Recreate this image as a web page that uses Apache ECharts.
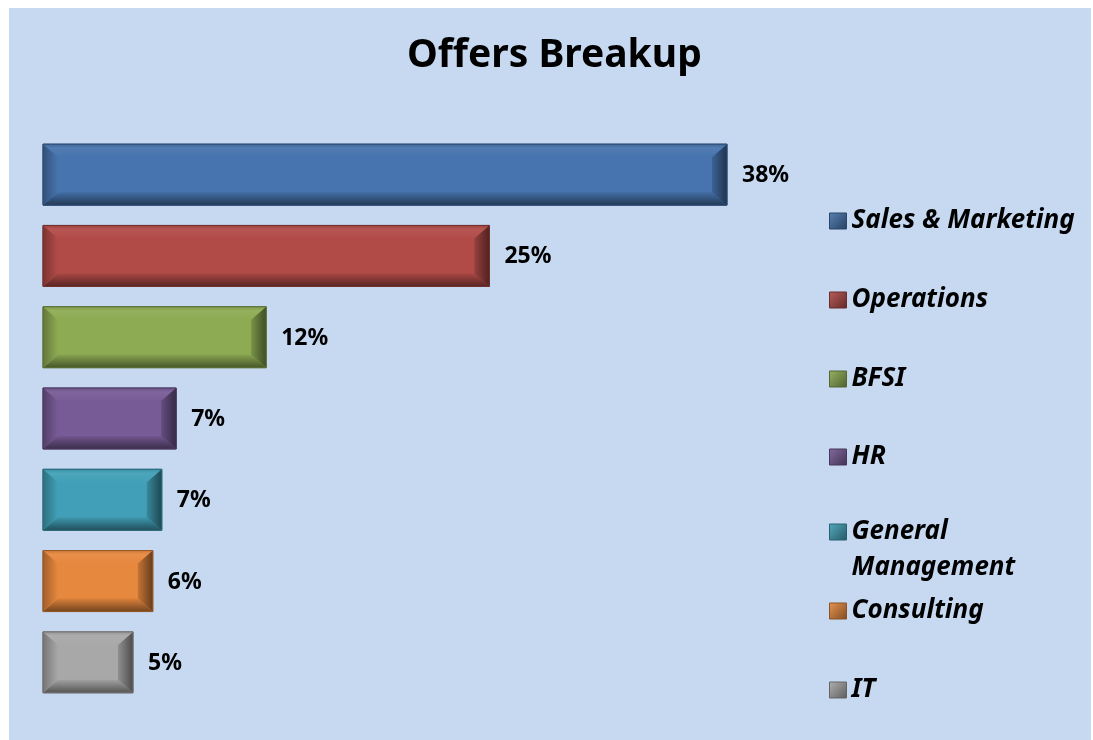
<!DOCTYPE html>
<html>
<head>
<meta charset="utf-8">
<script src="https://cdn.jsdelivr.net/npm/echarts@6/dist/echarts.min.js"></script>
<style>
  html, body { margin: 0; padding: 0; background: #ffffff; }
  #chart { position: absolute; left: 9px; top: 8px; width: 1082px; height: 732px; }
</style>
</head>
<body>
<div id="chart"></div>
<script>
// data
const categories = ['Sales & Marketing', 'Operations', 'BFSI', 'HR', 'General Management', 'Consulting', 'IT'];
const values = [38, 24.8, 12.4, 7.4, 6.6, 6.1, 5.0];
const colors = ['#4774ae', '#b14b48', '#8dab53', '#775b96', '#41a0b7', '#e6883e', '#a8a8a8'];

// legend icon centres (chart coords)
const legendCentres = [211, 290, 369, 447, 524, 601, 680];

function shade(hex, f) {
    const n = parseInt(hex.slice(1), 16);
    let r = (n >> 16) & 255, g = (n >> 8) & 255, b = n & 255;
    if (f < 0) {
        r = r * (1 + f); g = g * (1 + f); b = b * (1 + f);
    } else {
        r = r + (255 - r) * f; g = g + (255 - g) * f; b = b + (255 - b) * f;
    }
    return 'rgb(' + Math.round(r) + ',' + Math.round(g) + ',' + Math.round(b) + ')';
}

const LG = echarts.graphic.LinearGradient;

function renderBar(params, api) {
    const v = api.value(0);
    const c = api.value(1);
    const p0 = api.coord([0, c]);
    const p1 = api.coord([v, c]);
    const h = api.size([0, 1])[1] * 0.75;
    const x = p0[0], y = p0[1] - h / 2, w = p1[0] - p0[0];
    const bx = Math.min(15, w / 2), by = 13;
    const col = colors[c];
    const dark = shade(col, -0.55);
    return {
        type: 'group',
        children: [
            { type: 'rect', shape: { x: x, y: y, width: w, height: h },
              style: { fill: col, stroke: shade(col, -0.3), lineWidth: 1 } },
            // top bevel
            { type: 'polygon', shape: { points: [[x, y], [x + w, y], [x + w - bx, y + by], [x + bx, y + by]] },
              style: { fill: new LG(0, 0, 0, 1, [{ offset: 0, color: shade(col, -0.1) }, { offset: 0.3, color: shade(col, 0.06) }, { offset: 1, color: col }]) } },
            // bottom bevel
            { type: 'polygon', shape: { points: [[x, y + h], [x + w, y + h], [x + w - bx, y + h - by], [x + bx, y + h - by]] },
              style: { fill: new LG(0, 0, 0, 1, [{ offset: 0, color: shade(col, -0.05) }, { offset: 1, color: shade(col, -0.5) }]) } },
            // left bevel
            { type: 'polygon', shape: { points: [[x, y], [x + bx, y + by], [x + bx, y + h - by], [x, y + h]] },
              style: { fill: new LG(0, 0, 1, 0, [{ offset: 0, color: shade(col, -0.3) }, { offset: 1, color: col }]) } },
            // right bevel
            { type: 'polygon', shape: { points: [[x + w, y], [x + w - bx, y + by], [x + w - bx, y + h - by], [x + w, y + h]] },
              style: { fill: new LG(0, 0, 1, 0, [{ offset: 0, color: shade(col, -0.15) }, { offset: 1, color: dark }]) } },
            { type: 'rect', shape: { x: x, y: y, width: w, height: h },
              style: { fill: 'none', stroke: shade(col, -0.35), lineWidth: 1 } },
            { type: 'text', x: x + w + 15, y: p0[1] + 1,
              style: { text: Math.round(v) + '%', fill: '#000', font: 'bold 23px "Noto Sans"', verticalAlign: 'middle', align: 'left' } }
        ]
    };
}

const series = categories.map((name, i) => ({
    name: name,
    type: 'custom',
    renderItem: renderBar,
    itemStyle: { color: colors[i] },
    encode: { x: 0, y: 1 },
    data: [[values[i], i]]
}));

const legends = categories.map((name, i) => {
    const wrap = name === 'General Management';
    return {
        left: 820,
        top: legendCentres[i] - (wrap ? 54 : 11),
        orient: 'vertical',
        padding: 0,
        itemWidth: 17,
        itemHeight: 16,
        itemGap: 0,
        selectedMode: false,
        icon: 'rect',
        // the blank first line keeps "General" level with the icon
        formatter: n => wrap ? '\nGeneral\nManagement' : n,
        textStyle: {
            fontFamily: 'Noto Sans', fontSize: 26, fontWeight: 'bold', fontStyle: 'italic', color: '#000',
            lineHeight: wrap ? 36 : 16
        },
        data: [{
            name: name,
            itemStyle: {
                color: new LG(0, 0, 1, 1, [{ offset: 0, color: shade(colors[i], 0.1) }, { offset: 1, color: shade(colors[i], -0.45) }]),
                borderColor: shade(colors[i], -0.4), borderWidth: 1
            }
        }]
    };
});

const chart = echarts.init(document.getElementById('chart'));
chart.setOption({
    backgroundColor: '#c6d9f1',
    animation: false,
    title: {
        text: 'Offers Breakup',
        left: 398,
        top: 28,
        padding: 0,
        textStyle: { fontFamily: 'Noto Sans', fontSize: 39, fontWeight: 'bold', color: '#000' }
    },
    legend: legends,
    grid: { left: 34, top: 126, width: 720, height: 569, containLabel: false },
    xAxis: { type: 'value', min: 0, max: 40, show: false },
    yAxis: { type: 'category', data: categories, inverse: true, show: false },
    series: series
});
</script>
</body>
</html>
